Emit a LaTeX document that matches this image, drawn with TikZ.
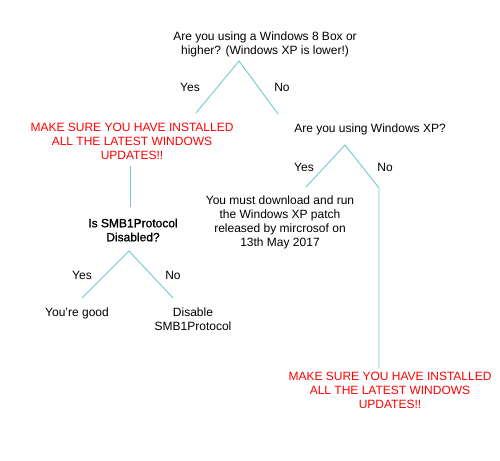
\documentclass[tikz,border=0pt]{standalone}
\usepackage{fontspec}
\setmainfont{Liberation Sans}
\newfontfamily\semibold[FakeBold=1.2]{Liberation Sans}
\usepackage{xcolor}
\usepackage{tikz}
\usetikzlibrary{positioning}
\definecolor{linkteal}{RGB}{115,200,205}

\begin{document}
\begin{tikzpicture}[
  x=1pt, y=-1pt,
  font=\fontsize{12}{14}\selectfont,
  txt/.style={align=center, inner sep=0pt},
  warn/.style={txt, text=red},
  link/.style={draw=linkteal, line width=0.9pt},
]
\useasboundingbox (0,0) rectangle (500,460);
\node[txt] (winver) at (265,44) {Are you using a Windows 8 Box or\\higher? (Windows XP is lower!)};
\node[warn] (upd1) at (132,141) {MAKE SURE YOU HAVE INSTALLED\\ALL THE LATEST WINDOWS\\UPDATES!!};
\node[txt] (isxp) at (370,129) {Are you using Windows XP?};
\node[txt, font=\fontsize{12}{14}\semibold] (smb) at (133,230) {Is SMB1Protocol\\Disabled?};
\node[txt] (patch) at (280,222) {You must download and run\\the Windows XP patch\\released by mircrosof on\\13th May 2017};
\node[txt] (good) at (77,313) {You’re good};
\node[txt] (disable) at (193,319) {Disable\\SMB1Protocol};
\node[warn] (upd2) at (390,390) {MAKE SURE YOU HAVE INSTALLED\\ALL THE LATEST WINDOWS\\UPDATES!!};
\node[txt] (yes1) at (190,87) {Yes};
\node[txt] (no1) at (282,87) {No};
\node[txt] (yes2) at (304,167) {Yes};
\node[txt] (no2) at (385,167) {No};
\node[txt] (yes3) at (82,275) {Yes};
\node[txt] (no3) at (173,275) {No};
\coordinate (winver-fork) at (239,61);
\coordinate (winver-yes) at (196,113);
\coordinate (winver-no) at (278,114);
\coordinate (upd1-out) at (130,166);
\coordinate (smb-in) at (130,207);
\coordinate (isxp-fork) at (345,145);
\coordinate (isxp-yes) at (306,187);
\coordinate (isxp-no) at (379,188);
\coordinate (upd2-in) at (379,368);
\coordinate (smb-fork) at (129,251);
\coordinate (smb-yes) at (82,298);
\coordinate (smb-no) at (173,298);
\draw[link] (winver-yes) -- (winver-fork) -- (winver-no);
\draw[link] (upd1-out) -- (smb-in);
\draw[link] (isxp-yes) -- (isxp-fork) -- (isxp-no) -- (upd2-in);
\draw[link] (smb-yes) -- (smb-fork) -- (smb-no);
\end{tikzpicture}
\end{document}
